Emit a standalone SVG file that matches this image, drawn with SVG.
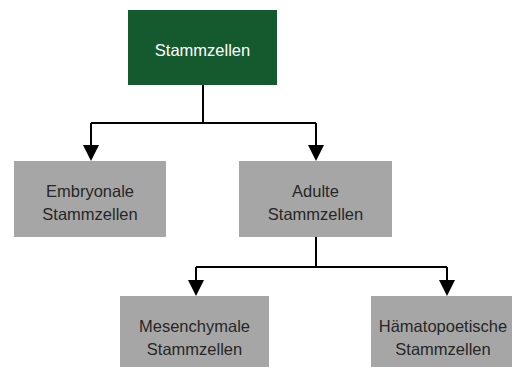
<svg xmlns="http://www.w3.org/2000/svg" width="517" height="367" viewBox="0 0 517 367">
<style>
.box{fill:#a6a6a6}
.root{fill:#155a2f}
text{font-family:"Liberation Sans",Arial,sans-serif;font-size:16.5px;text-anchor:middle;fill:#262626}
.root-t{fill:#ffffff}
.conn{fill:none;stroke:#000;stroke-width:2}
.head{fill:#000}
</style>
<rect width="517" height="367" fill="#fff"/>
<g id="connectors">
<path class="conn" d="M203 85V123M91 123H316M91 123V146M316 123V146"/>
<path class="conn" d="M316 237V267M196 267H447M196 267V282M447 267V282"/>
<polygon class="head" points="83,145 99,145 91,161"/>
<polygon class="head" points="308,145 324,145 316,161"/>
<polygon class="head" points="188,280 204,280 196,296"/>
<polygon class="head" points="439,280 455,280 447,296"/>
</g>
<g id="stammzellen">
<rect class="root" x="128" y="10" width="149" height="75"/>
<text class="root-t" x="202.5" y="56">Stammzellen</text>
</g>
<g id="embryonale">
<rect class="box" x="14" y="161" width="152" height="76"/>
<text x="90" y="197">Embryonale</text>
<text x="90" y="220">Stammzellen</text>
</g>
<g id="adulte">
<rect class="box" x="239" y="161" width="153" height="76"/>
<text x="315.5" y="197">Adulte</text>
<text x="315.5" y="220">Stammzellen</text>
</g>
<g id="mesenchymale">
<rect class="box" x="120" y="296" width="149" height="71"/>
<text x="194.5" y="332">Mesenchymale</text>
<text x="194.5" y="355">Stammzellen</text>
</g>
<g id="haematopoetische">
<rect class="box" x="371" y="296" width="141" height="71"/>
<text x="443" y="332">Hämatopoetische</text>
<text x="443" y="355">Stammzellen</text>
</g>
</svg>
